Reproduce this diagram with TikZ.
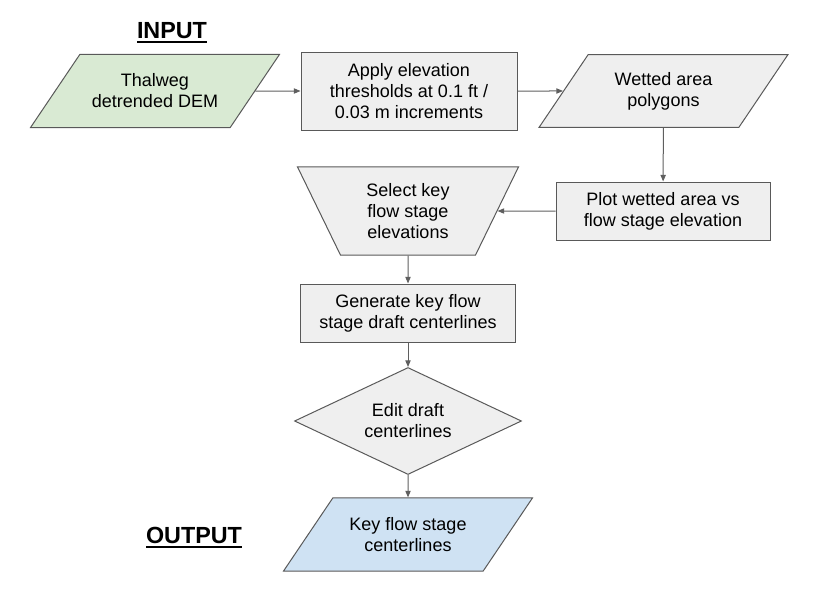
\documentclass[tikz,border=0pt]{standalone}
\usepackage{fontspec}
\setmainfont{Liberation Sans}
\usepackage{calc}
\usetikzlibrary{shapes.geometric,arrows.meta}
\definecolor{bordc}{HTML}{595959}
\definecolor{arrc}{HTML}{5F5F5F}
\definecolor{fgreen}{HTML}{D9EAD3}
\definecolor{fgray}{HTML}{EFEFEF}
\definecolor{fblue}{HTML}{CFE2F3}
\newcommand{\titleul}[1]{\leavevmode\rlap{\rule[-3.4pt]{\widthof{#1}}{1.3pt}}#1}
\begin{document}
\begin{tikzpicture}[x=0.75pt,y=-0.75pt,
  every node/.style={font=\fontsize{13.5}{15.75}\selectfont, text=black, align=center, inner sep=0pt},
  procbox/.style={rectangle, draw=bordc, line width=0.75pt, fill=fgray},
  iobox/.style={trapezium, draw=bordc, line width=0.75pt, trapezium left angle=56, trapezium right angle=124,
    trapezium stretches body, minimum width=186.75pt, inner ysep=14.6pt},
  selbox/.style={trapezium, draw=bordc, line width=0.75pt, fill=fgray, trapezium left angle=116, trapezium right angle=116,
    trapezium stretches body, minimum width=165.75pt, inner ysep=12.35pt},
  decbox/.style={diamond, draw=bordc, line width=0.75pt, fill=fgray, aspect=2.12, minimum width=170.25pt, minimum height=80.25pt},
  conn/.style={draw=arrc, line width=0.75pt, -{Triangle[length=5pt,width=4pt]}},
  titletext/.style={font=\fontsize{17.5}{21}\selectfont\bfseries}
]
\useasboundingbox (0,0) rectangle (814,596);

\node[titletext, anchor=base] (tin) at (172,38) {\titleul{INPUT}};
\node[titletext, anchor=base] (tout) at (194,543) {\titleul{OUTPUT}};

\node[iobox, fill=fgreen] (thal) at (155,91) {Thalweg\\detrended DEM};
\node[procbox, minimum width=162pt, minimum height=58.5pt] (apply) at (409,91) {Apply elevation\\thresholds at 0.1 ft /\\0.03 m increments};
\node[iobox, fill=fgray, inner ysep=13.2pt] (wet) at (663.5,91) {Wetted area\\polygons};
\node[procbox, minimum width=160.5pt, minimum height=43.5pt] (plot) at (663,211) {Plot wetted area vs\\flow stage elevation};
\node[selbox] (sel) at (408,211) {Select key\\flow stage\\elevations};
\node[procbox, minimum width=161.25pt, minimum height=43.5pt] (gen) at (408,313) {Generate key flow\\stage draft centerlines};
\node[decbox] (edit) at (408,421) {Edit draft\\centerlines};
\node[iobox, fill=fblue] (out) at (408,534.5) {Key flow stage\\centerlines};

\draw[conn] (thal) -- (apply);
\draw[conn] (apply) -- (wet);
\draw[conn] (wet) -- (plot);
\draw[conn] (plot) -- (sel);
\draw[conn] (sel) -- (gen);
\draw[conn] (gen) -- (edit);
\draw[conn] (edit) -- (out);
\end{tikzpicture}
\end{document}
